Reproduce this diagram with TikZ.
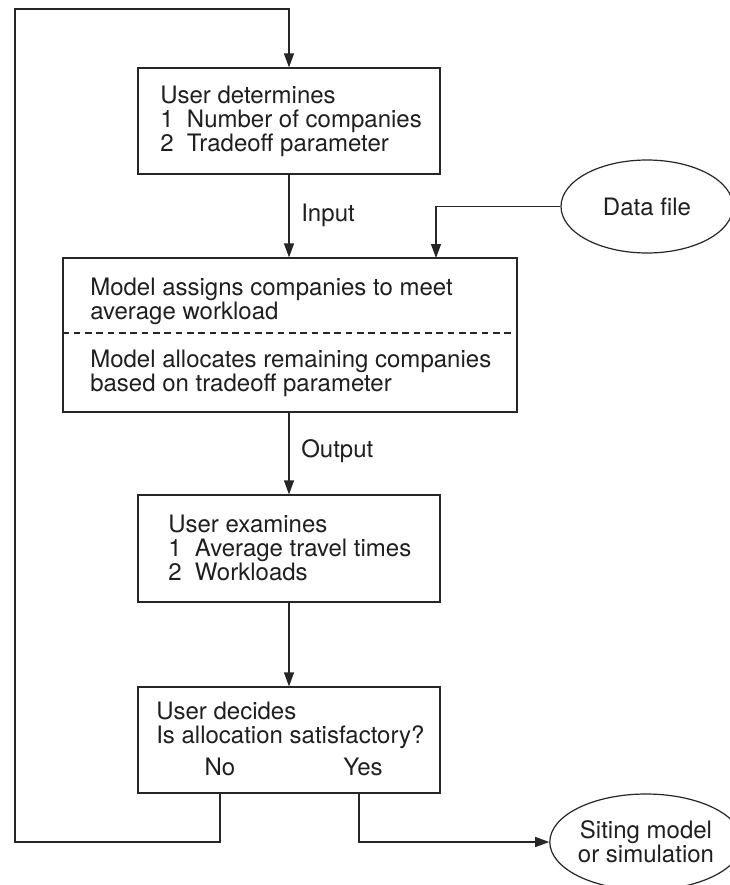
\documentclass[tikz,border=0pt]{standalone}
\usepackage{fontspec}
\setmainfont{TeX Gyre Heros}
\usetikzlibrary{arrows.meta,shapes.geometric}
\newcommand{\pxl}{0.75pt}
\begin{document}
\begin{tikzpicture}[x=0.75pt, y=-0.75pt,
  every node/.style={font=\fontsize{18}{18}\selectfont, text=black!88},
  box/.style={draw=black!85, line width=0.9pt, rectangle, inner sep=0pt},
  oval/.style={draw=black!85, line width=0.9pt, ellipse, inner sep=0pt, align=center},
  txt/.style={inner sep=0pt, align=left, anchor=west},
  lbl/.style={inner sep=0pt},
  flow/.style={draw=black!85, line width=0.9pt, -{Triangle[length=10.5pt, width=7.5pt]}},
  link/.style={draw=black!85, line width=0.9pt},
  divider/.style={draw=black!85, line width=0.8pt, dash pattern=on 5pt off 3.5pt}]

  % page frame
  \fill[white] (0,0) rectangle (729,885);
  \useasboundingbox (0,0) rectangle (729,885);

  % boxes
  \node[box, minimum width=302*\pxl, minimum height=106*\pxl] (top) at (289,121) {};
  \node[box, minimum width=454*\pxl, minimum height=154*\pxl] (mid) at (290,335) {};
  \node[box, minimum width=302*\pxl, minimum height=107*\pxl] (exam) at (289,548.5) {};
  \node[box, minimum width=302*\pxl, minimum height=106*\pxl] (decide) at (289,740) {};

  % ovals
  \node[oval, minimum width=172*\pxl, minimum height=93*\pxl] (data) at (647,206.5) {Data file};
  \node[oval, minimum width=170*\pxl, minimum height=96*\pxl] (siting) at (646,842) {Siting model\\or simulation};

  % box texts
  \node[txt] (topText) at (160,121) {User determines\\1~~Number of companies\\2~~Tradeoff parameter};
  \node[txt] (assignText) at (90,301) {Model assigns companies to meet\\average workload};
  \node[txt] (allocText) at (90,373) {Model allocates remaining companies\\based on tradeoff parameter};
  \node[txt] (examText) at (168,548) {User examines\\1~~Average travel times\\2~~Workloads};
  \node[txt] (decideText) at (156,725) {User decides\\Is allocation satisfactory?};
  \node[lbl, anchor=base] (noLbl) at (220,775) {No};
  \node[lbl, anchor=base] (yesLbl) at (363,775) {Yes};

  % connector labels
  \node[lbl, anchor=base west] (inLbl) at (301,221) {Input};
  \node[lbl, anchor=base west] (outLbl) at (301,457) {Output};

  % routing points
  \coordinate (split) at (290,333);
  \coordinate (dataIn) at (436,258);
  \coordinate (noTurn) at (220,842);
  \coordinate (yesTurn) at (359,842);
  \coordinate (loopTop) at (15,9);

  % dashed split inside the model box
  \draw[divider] (mid.west |- split) -- (mid.east |- split);

  % connectors
  \draw[flow] (top.south) -- (top.south |- mid.north);
  \draw[flow] (data.west) -| (dataIn);
  \draw[flow] (mid.south -| top.south) -- (exam.north -| top.south);
  \draw[flow] (exam.south) -- (decide.north);
  \draw[flow] (decide.south -| noTurn) -- (noTurn) -| (loopTop) -| (top.north);
  \draw[flow] (decide.south -| yesTurn) |- (siting.west);
\end{tikzpicture}
\end{document}
